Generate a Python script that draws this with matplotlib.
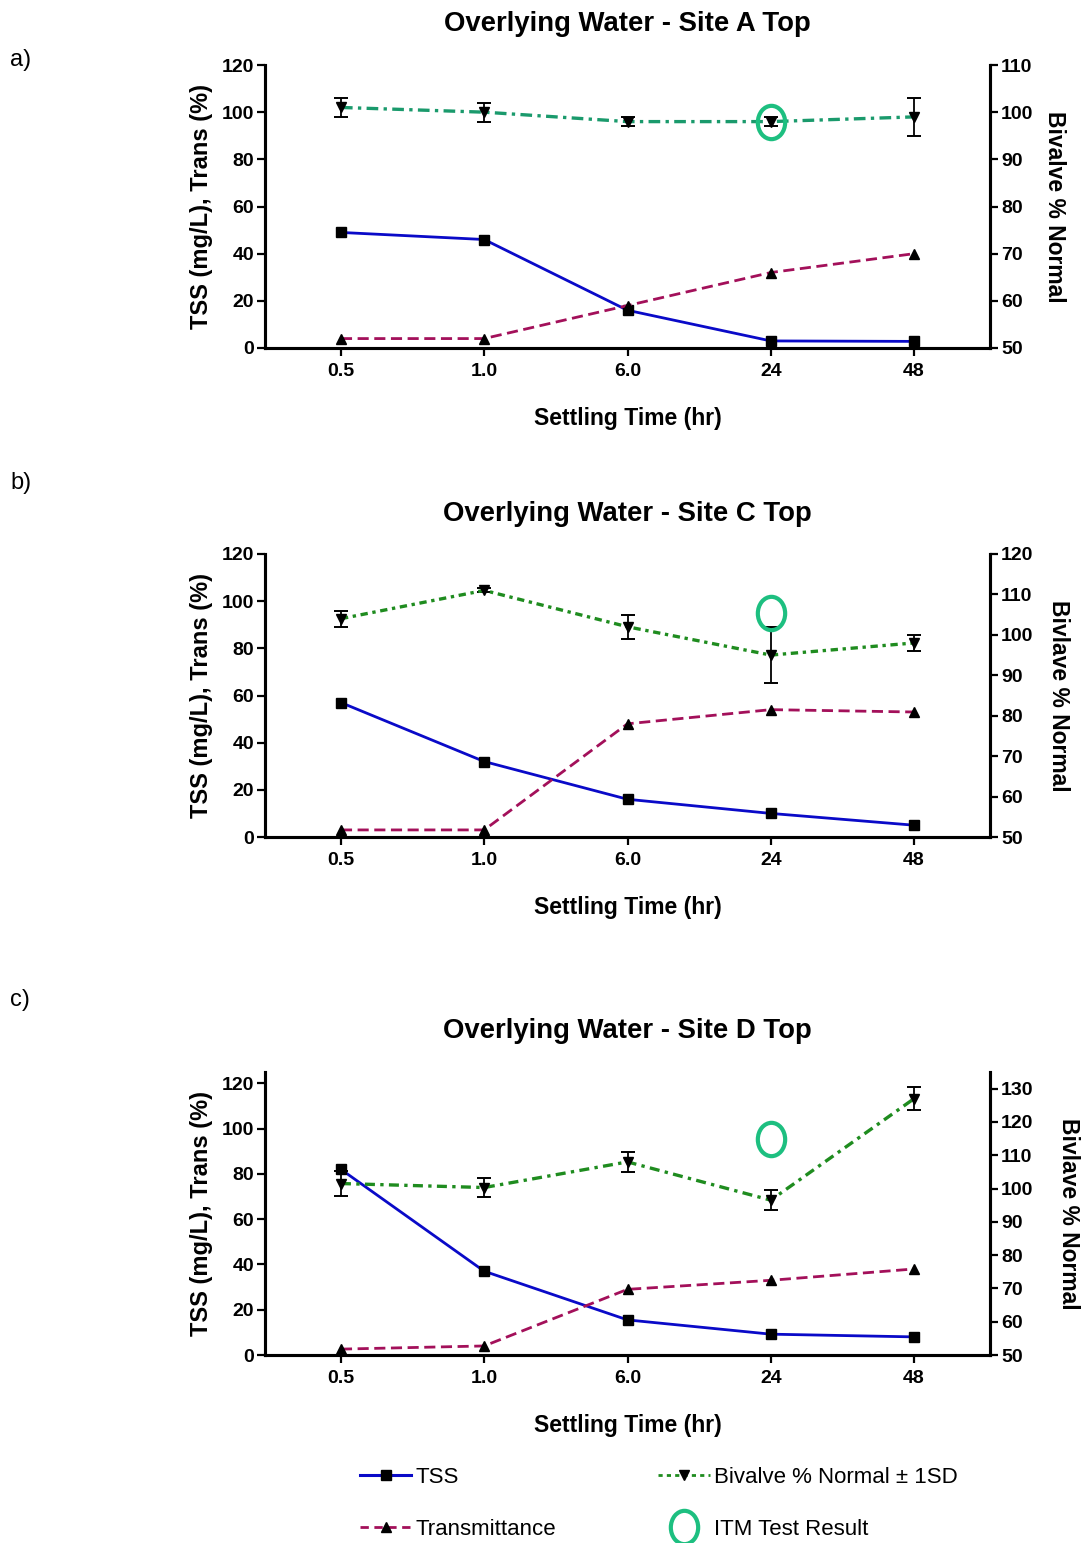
import matplotlib
matplotlib.use("Agg")
import matplotlib.pyplot as plt
from matplotlib.lines import Line2D
from matplotlib.path import Path
from matplotlib.transforms import Affine2D
import numpy as np

plt.rcParams['font.family'] = ['Liberation Sans', 'DejaVu Sans']

# ---------------- data ----------------
times = ['0.5', '1.0', '6.0', '24', '48']

tss_a = [49, 46, 16, 3, 2.8]
trans_a = [4, 4, 18, 32, 40]
biv_a = [101, 100, 98, 98, 99]
sd_a = [2, 2, 1, 1, 4]
itm_a = 98

tss_b = [57, 32, 16, 10, 5]
trans_b = [3, 3, 48, 54, 53]
biv_b = [104, 111, 102, 95, 98]
sd_b = [2, 0.5, 3, 7, 2]
itm_b = 105.5

tss_c = [82, 37, 15.5, 9.2, 8]
trans_c = [2.6, 4, 29, 33, 38]
biv_c = [101.5, 100.3, 108, 96.5, 127]
sd_c = [3.7, 2.9, 3, 3, 3.5]
itm_c = 115

itm_index = 3  # ITM result at 24 hr

titles = ['Overlying Water - Site A Top', 'Overlying Water - Site C Top',
          'Overlying Water - Site D Top']
right_labels = ['Bivalve % Normal', 'Bivlave % Normal', 'Bivlave % Normal']
panel_labels = ['a)', 'b)', 'c)']
left_ylabel = 'TSS (mg/L), Trans (%)'
xlabel = 'Settling Time (hr)'

# ---------------- styles ----------------
W, H = 1084, 1543
fig = plt.figure(figsize=(W / 100, H / 100), dpi=100)

TSS_COL = '#0a0ac8'
TRANS_COL = '#a3105a'
ITM_COL = '#1dbf80'
BIV_COLS = ['#1a9a6c', '#1f8c1f', '#1f8c1f']
BIV_LS = [(0, (3.5, 1.6, 1.0, 1.6)), (0, (2.2, 1.4, 1.0, 1.4)), (0, (3.0, 1.6, 1.0, 1.6))]

ell = Affine2D().scale(0.82, 1.0).transform_path(Path.unit_circle())

def fx(px):
    return px / W

def fy(py):
    return 1 - py / H

panels = [
    dict(top=65, bottom=348, tss=tss_a, trans=trans_a, biv=biv_a, sd=sd_a, itm=itm_a,
         ylim=(0, 120), rylim=(50, 110), rticks=np.arange(50, 111, 10),
         title_y=24, lab_y=60, rlab_x=1055),
    dict(top=554, bottom=837, tss=tss_b, trans=trans_b, biv=biv_b, sd=sd_b, itm=itm_b,
         ylim=(0, 120), rylim=(50, 120), rticks=np.arange(50, 121, 10),
         title_y=514, lab_y=483, rlab_x=1058),
    dict(top=1072, bottom=1355, tss=tss_c, trans=trans_c, biv=biv_c, sd=sd_c, itm=itm_c,
         ylim=(0, 125), rylim=(50, 135), rticks=np.arange(50, 131, 10),
         title_y=1031, lab_y=1000, rlab_x=1068),
]

left_px, right_px = 265, 990
x = np.arange(len(times))

for i, p in enumerate(panels):
    ax = fig.add_axes([fx(left_px), fy(p['bottom']), fx(right_px - left_px),
                       (p['bottom'] - p['top']) / H])
    ax2 = ax.twinx()

    ax.plot(x, p['tss'], color=TSS_COL, lw=2.0, marker='s', ms=6.5,
            mfc='black', mec='black', zorder=3)
    ax.plot(x, p['trans'], color=TRANS_COL, lw=2.0, ls=(0, (4, 2)), marker='^', ms=7,
            mfc='black', mec='black', zorder=3)

    ax2.errorbar(x, p['biv'], yerr=p['sd'], fmt='none', ecolor='black',
                 elinewidth=1.3, capsize=5, capthick=1.4, zorder=3)
    ax2.plot(x, p['biv'], color=BIV_COLS[i], lw=2.4, ls=BIV_LS[i], marker='v', ms=7.5,
             mfc='black', mec='black', zorder=4)
    ax2.plot([x[itm_index]], [p['itm']], ls='none', marker=ell, ms=24,
             mfc='none', mec=ITM_COL, mew=3, zorder=5)

    ax.set_xlim(-0.53, 4.53)
    ax.set_ylim(*p['ylim'])
    ax.set_yticks(np.arange(0, 121, 20))
    ax2.set_ylim(*p['rylim'])
    ax2.set_yticks(p['rticks'])
    ax.set_xticks(x)
    ax.set_xticklabels(times)

    for a in (ax, ax2):
        a.spines['top'].set_visible(False)
        for s in a.spines.values():
            s.set_linewidth(2.2)
        a.tick_params(width=1.6, length=6, labelsize=14, pad=2)
        for lab in a.get_yticklabels() + a.get_xticklabels():
            lab.set_fontweight('bold')
    ax.tick_params(axis='x', length=6, pad=5)

    ax.set_xlabel(xlabel, fontsize=16.5, fontweight='bold', labelpad=19)
    ax.set_ylabel(left_ylabel, fontsize=17, fontweight='bold', labelpad=6)
    ax2.set_ylabel(right_labels[i], fontsize=16.5, fontweight='bold', rotation=-90,
                   va='center')
    ax2.yaxis.set_label_coords((p['rlab_x'] - left_px) / (right_px - left_px), 0.5)

    fig.text(fx((left_px + right_px) / 2), fy(p['title_y']), titles[i], ha='center',
             va='center', fontsize=19.8, fontweight='bold')
    fig.text(fx(10), fy(p['lab_y']), panel_labels[i], ha='left', va='center',
             fontsize=17)

# ---------------- legend ----------------
handles = [
    Line2D([], [], color=TSS_COL, lw=2.2, marker='s', ms=6.5, mfc='black', mec='black'),
    Line2D([], [], color=TRANS_COL, lw=2.0, ls=(0, (3, 2)), marker='^', ms=7,
           mfc='black', mec='black'),
    Line2D([], [], color=BIV_COLS[1], lw=2.0, ls=(0, (1.5, 1.5)), marker='v', ms=7.5,
           mfc='black', mec='black'),
    Line2D([], [], ls='none', marker=ell, ms=24, mfc='none', mec=ITM_COL, mew=3),
]
labels = ['TSS', 'Transmittance', 'Bivalve % Normal \u00b1 1SD', 'ITM Test Result']
fig.legend(handles, labels, loc='upper left', bbox_to_anchor=(fx(360), fy(1467)),
           ncol=2, frameon=False, fontsize=16, handlelength=2.3, handletextpad=0.2,
           columnspacing=4.6, labelspacing=1.4, borderpad=0, borderaxespad=0)

fig.savefig('out.png', dpi=100)
